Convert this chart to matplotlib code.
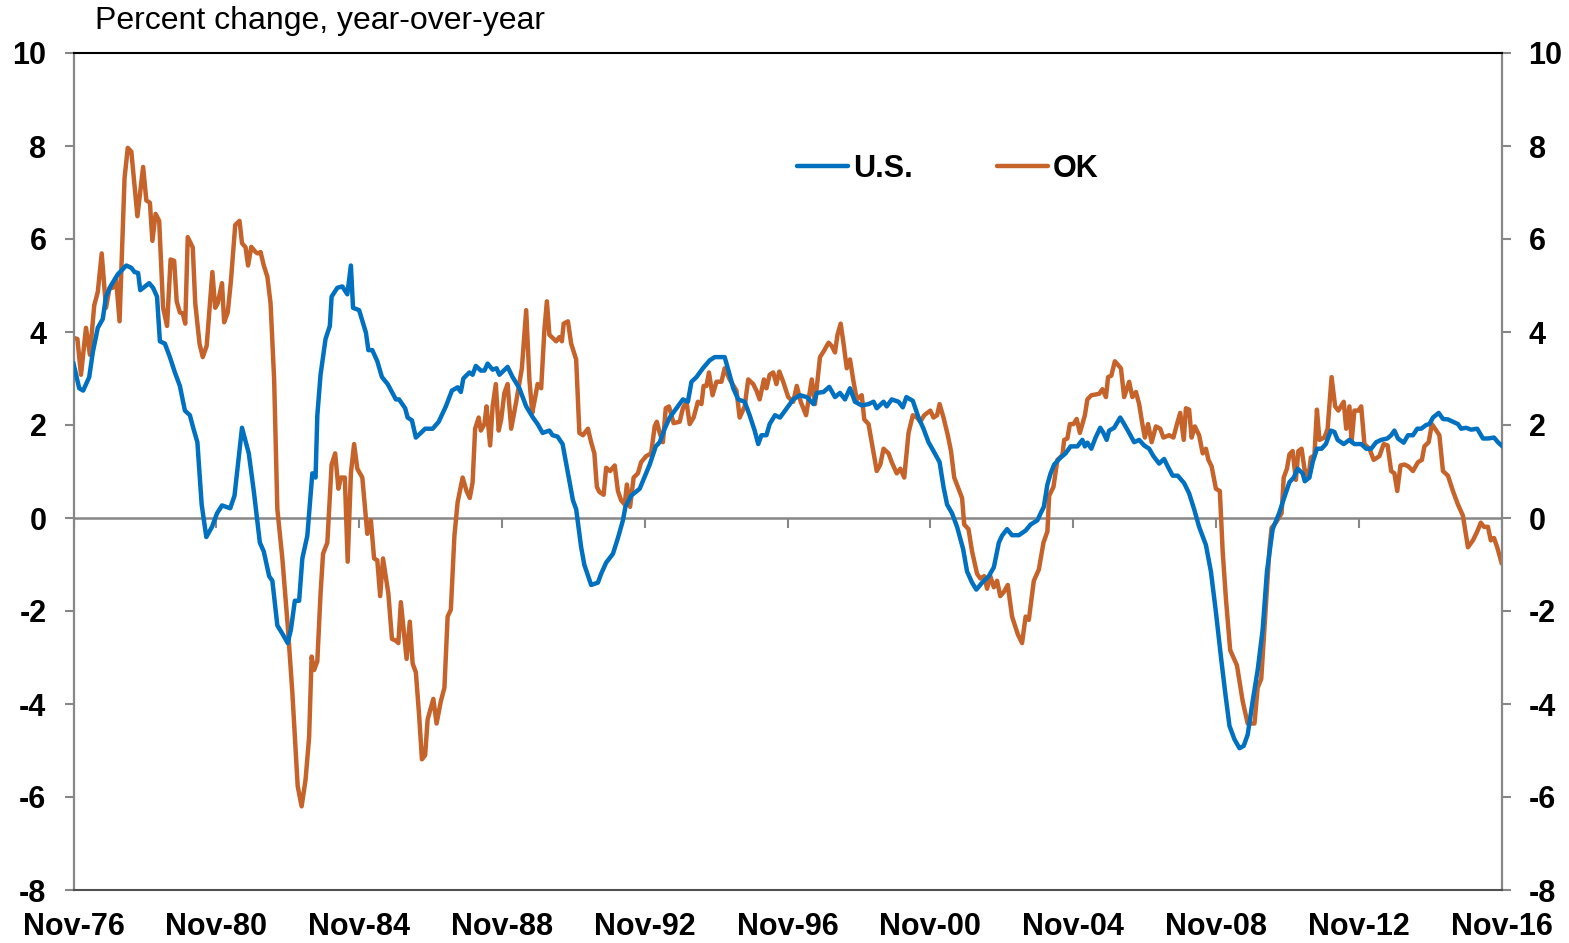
import matplotlib
matplotlib.use("Agg")
import matplotlib.pyplot as plt

plt.rcParams['font.family'] = ['Liberation Sans', 'DejaVu Sans']

# x values are years since Nov-1976
us_t = [0.0, 0.16, 0.27, 0.44, 0.54, 0.68, 0.82, 0.91, 1.05, 1.24, 1.48, 1.62, 1.71, 1.81, 1.87, 2.12, 2.23, 2.34,
        2.42, 2.56, 2.7, 2.84, 2.98, 3.12, 3.26, 3.36, 3.47, 3.59, 3.72, 3.88, 4.02, 4.16, 4.39, 4.51, 4.72, 4.91,
        5.05, 5.22, 5.33, 5.48, 5.57, 5.71, 5.86, 6.0, 6.09, 6.2,
        6.32, 6.41, 6.55, 6.69, 6.78, 6.83, 6.92, 7.06, 7.18, 7.23, 7.39, 7.53, 7.67, 7.77, 7.83, 8.0, 8.19, 8.26,
        8.37, 8.51, 8.64, 8.8, 9.03, 9.12, 9.29, 9.36, 9.48, 9.59, 9.73, 9.85, 10.06, 10.23, 10.43, 10.6, 10.76,
        10.85, 10.92, 11.09, 11.18, 11.27, 11.41, 11.51, 11.6, 11.74, 11.85, 11.93, 12.16, 12.3, 12.49, 12.68,
        12.87, 13.0,
        13.14, 13.33, 13.42, 13.56, 13.7, 13.85, 13.99, 14.08, 14.22, 14.31, 14.5, 14.69, 14.78, 14.92, 15.11,
        15.25, 15.39, 15.46, 15.62, 15.86, 15.99, 16.14, 16.31, 16.42, 16.56, 16.7, 16.89, 17.07, 17.21, 17.31,
        17.45, 17.63, 17.82, 17.96, 18.1, 18.24, 18.38, 18.48, 18.62, 18.8, 18.94, 19.08, 19.18, 19.27, 19.41,
        19.5, 19.65, 19.79,
        19.98, 20.16, 20.35, 20.54, 20.73, 20.82, 21.01, 21.17, 21.33, 21.47, 21.61, 21.75, 21.89, 22.08, 22.27,
        22.41, 22.5, 22.69, 22.78, 22.92, 23.11, 23.23, 23.33, 23.51, 23.67, 23.81, 23.95, 24.09, 24.26, 24.37,
        24.47, 24.61, 24.75, 24.92, 25.03, 25.17, 25.29, 25.45, 25.64, 25.78, 25.92, 26.01, 26.15, 26.29, 26.48,
        26.67, 26.81, 27.0, 27.09, 27.18, 27.28, 27.37, 27.47, 27.65, 27.79, 27.93, 28.12, 28.26, 28.33, 28.4,
        28.51, 28.63, 28.76, 28.85, 28.94, 29.01, 29.15, 29.32, 29.43, 29.57, 29.71, 29.85, 29.99, 30.13, 30.25,
        30.41, 30.55, 30.65, 30.79, 30.93, 31.11, 31.25, 31.39, 31.53, 31.72, 31.86, 32.0, 32.14, 32.26, 32.38,
        32.52, 32.66, 32.78, 32.89, 33.03, 33.17, 33.31, 33.43, 33.53,
        33.59, 33.77, 33.91, 34.06, 34.18, 34.29, 34.43, 34.49, 34.62, 34.71, 34.83, 34.96, 35.08, 35.22, 35.32,
        35.41, 35.58, 35.74, 35.88, 36.07, 36.21, 36.35, 36.49, 36.63, 36.8, 36.91, 37.0, 37.1, 37.26, 37.38,
        37.52, 37.64, 37.75, 37.89, 37.98, 38.08, 38.24, 38.36, 38.5, 38.64, 38.78, 38.87, 39.01, 39.15, 39.32,
        39.48, 39.62, 39.79, 39.9, 40.0]
us_v = [3.32, 2.79, 2.74, 3.03, 3.56, 4.09, 4.28, 4.76, 5.0, 5.24, 5.43, 5.38, 5.29, 5.27, 4.9, 5.05, 4.95, 4.76,
        3.8, 3.75, 3.46, 3.13, 2.84, 2.31, 2.21, 1.92, 1.63, 0.29, -0.41, -0.19, 0.1, 0.27, 0.21, 0.48, 1.94, 1.39,
        0.58, -0.53, -0.72, -1.25, -1.35, -2.31, -2.5, -2.69, -2.4, -1.78,
        -1.78, -0.87, -0.38, 0.96, 0.87, 2.21, 3.08, 3.85, 4.13, 4.76, 4.95, 4.98, 4.81, 5.43, 4.52, 4.47, 3.99,
        3.61, 3.61, 3.37, 3.03, 2.88, 2.55, 2.55, 2.36, 2.16, 2.1, 1.73, 1.83, 1.92, 1.92, 2.07, 2.4, 2.74, 2.81,
        2.71, 3.0, 3.13, 3.08, 3.27, 3.17, 3.17, 3.32, 3.19, 3.22, 3.08, 3.25, 3.03, 2.79, 2.4, 2.16, 2.02,
        1.83, 1.88, 1.78, 1.75, 1.59, 0.96, 0.38, 0.19, -0.63, -1.01, -1.44, -1.39, -1.2, -0.96, -0.77, -0.43,
        -0.05, 0.24, 0.48, 0.63, 0.87, 1.15, 1.54, 1.63, 1.92, 2.16, 2.36, 2.55, 2.5, 2.93, 3.03, 3.22, 3.39,
        3.46, 3.46, 3.46, 3.08, 2.79, 2.55, 2.5, 2.21, 1.88, 1.59, 1.78, 1.78, 2.02, 2.21, 2.16,
        2.36, 2.55, 2.64, 2.6, 2.45, 2.69, 2.71, 2.82, 2.6, 2.69, 2.55, 2.79, 2.5, 2.42, 2.45, 2.5, 2.36, 2.5,
        2.4, 2.55, 2.5, 2.38, 2.6, 2.52, 2.16, 1.92, 1.63, 1.44, 1.2, 0.67, 0.29, 0.1, -0.19, -0.67, -1.15, -1.39,
        -1.54, -1.39, -1.25, -1.06, -0.53, -0.38, -0.24, -0.37, -0.37,
        -0.27, -0.14, -0.05, 0.1, 0.24, 0.72, 0.96, 1.15, 1.3, 1.39, 1.54, 1.54, 1.68, 1.54, 1.62, 1.49, 1.73,
        1.94, 1.83, 1.68, 1.88, 1.94, 2.16, 2.02, 1.83, 1.63, 1.68, 1.56, 1.49, 1.33, 1.17, 1.27, 1.11, 0.91,
        0.91, 0.75, 0.53, 0.19, -0.19, -0.58, -1.15, -2.02, -2.98, -3.75, -4.47, -4.76, -4.95, -4.9, -4.66,
        -3.94, -3.27, -2.4, -1.15, -0.58,
        -0.24, 0.1, 0.43, 0.77, 0.87, 1.06, 0.96, 0.79, 0.87, 1.2, 1.49, 1.49, 1.59, 1.88, 1.85, 1.68, 1.59,
        1.68, 1.59, 1.59, 1.49, 1.49, 1.63, 1.68, 1.71, 1.78, 1.88, 1.71, 1.62, 1.78, 1.78, 1.92, 1.92, 2.0,
        2.02, 2.16, 2.26, 2.13, 2.12, 2.07, 2.02, 1.92, 1.94, 1.9, 1.92, 1.71, 1.71, 1.73, 1.63, 1.56]

ok_t = [0.02, 0.11, 0.21, 0.35, 0.46, 0.58, 0.68, 0.79, 0.91, 1.01, 1.1, 1.19, 1.29, 1.43, 1.52, 1.62, 1.79, 1.95,
        2.04, 2.14, 2.21, 2.3, 2.4, 2.51, 2.62, 2.72, 2.82, 2.89, 2.98, 3.06, 3.13, 3.2, 3.34, 3.41, 3.53, 3.62,
        3.73, 3.89, 3.97, 4.04, 4.16, 4.22, 4.32, 4.41, 4.53, 4.65, 4.72, 4.82, 4.89, 4.98, 5.1, 5.16, 5.24, 5.33,
        5.43, 5.52, 5.62, 5.71, 5.85, 6.0, 6.13, 6.28, 6.39,
        6.5, 6.6, 6.67, 6.74, 6.83, 6.92, 6.99, 7.11, 7.23, 7.33, 7.42, 7.49, 7.6, 7.68, 7.77, 7.86, 7.95, 8.09,
        8.23, 8.33, 8.42, 8.51, 8.59, 8.67, 8.82, 8.92, 9.03, 9.1, 9.17, 9.33, 9.42, 9.5, 9.59, 9.68, 9.76, 9.85,
        9.92, 10.08, 10.17, 10.29, 10.39, 10.48, 10.57, 10.67, 10.76, 10.9, 11.01, 11.1, 11.18, 11.25, 11.35,
        11.41, 11.51, 11.57, 11.67, 11.74, 11.83, 11.91, 11.98, 12.07, 12.16, 12.26, 12.4, 12.56, 12.68, 12.77,
        12.85, 12.91, 13.0, 13.1, 13.19, 13.26, 13.33,
        13.52, 13.61, 13.68, 13.73, 13.85, 13.94, 14.08, 14.17, 14.27, 14.41, 14.5, 14.59, 14.66, 14.73, 14.85,
        14.92, 15.03, 15.16, 15.25, 15.34, 15.44, 15.5, 15.59, 15.69, 15.81, 15.9, 16.04, 16.18, 16.28, 16.34,
        16.42, 16.51, 16.59, 16.68, 16.81, 16.98, 17.07, 17.17, 17.26, 17.37, 17.49, 17.59, 17.65, 17.73, 17.8,
        17.9, 18.01, 18.15, 18.24, 18.38, 18.57, 18.66, 18.8, 18.9, 19.04, 19.13, 19.22, 19.34, 19.41, 19.5,
        19.6, 19.69, 19.77,
        19.88, 20.02, 20.16, 20.26, 20.37, 20.52, 20.68, 20.77, 20.91, 21.01, 21.15, 21.24, 21.33, 21.4, 21.49,
        21.57, 21.66, 21.75, 21.85, 21.94, 22.08, 22.15, 22.27, 22.36, 22.5, 22.6, 22.69, 22.83, 22.92, 23.06,
        23.16, 23.27, 23.39, 23.51, 23.63, 23.72, 23.83, 24.0, 24.09, 24.19, 24.26, 24.37, 24.49, 24.58, 24.67,
        24.79, 24.89, 24.95, 25.07, 25.17, 25.31, 25.4, 25.51, 25.59, 25.68, 25.78, 25.87, 25.96, 26.06, 26.17,
        26.29, 26.45, 26.57, 26.67,
        26.76, 26.9, 27.04, 27.17, 27.28, 27.33, 27.45, 27.56, 27.7, 27.75, 27.84, 27.91, 28.01, 28.1, 28.19,
        28.33, 28.4, 28.51, 28.73, 28.82, 28.92, 28.98, 29.07, 29.17, 29.34, 29.43, 29.57, 29.66, 29.76, 29.85,
        29.94, 30.01, 30.1, 30.2, 30.32, 30.44, 30.53, 30.69, 30.81, 30.91, 31.0, 31.1, 31.16, 31.25, 31.32,
        31.41, 31.53, 31.63, 31.72, 31.79, 31.88, 32.0, 32.11, 32.19, 32.28, 32.4, 32.59, 32.75, 32.89, 33.08,
        33.17, 33.27, 33.38, 33.5,
        33.56, 33.68, 33.84, 33.9, 33.99, 34.06, 34.15, 34.24, 34.31, 34.4, 34.48, 34.59, 34.66, 34.76, 34.83,
        34.9, 35.04, 35.13, 35.24, 35.34, 35.43, 35.58, 35.65, 35.74, 35.8, 35.88, 35.99, 36.07, 36.16, 36.3,
        36.42, 36.58, 36.7, 36.81, 36.91, 37.0, 37.08, 37.17, 37.28, 37.39, 37.52, 37.66, 37.77, 37.84, 37.96,
        38.05, 38.14, 38.26, 38.36, 38.5, 38.64, 38.78, 38.92, 38.99, 39.06, 39.2, 39.32, 39.42, 39.51, 39.62,
        39.7, 39.79, 39.88, 40.0]
ok_v = [3.87, 3.85, 3.08, 4.09, 3.51, 4.57, 4.86, 5.69, 4.52, 4.95, 4.95, 5.17, 4.23, 7.31, 7.96, 7.88, 6.49, 7.55,
        6.83, 6.78, 5.96, 6.54, 6.39, 4.52, 4.13, 5.56, 5.53, 4.66, 4.42, 4.4, 4.18, 6.04, 5.82, 4.62, 3.75, 3.46,
        3.7, 5.29, 4.52, 4.62, 5.05, 4.21, 4.42, 5.1, 6.3, 6.39, 5.91, 5.82, 5.43, 5.83, 5.72, 5.69, 5.72, 5.43,
        5.19, 4.62, 2.98, 0.19, -0.87, -2.31, -3.75, -5.77, -6.2,
        -5.63, -4.71, -2.98, -3.27, -3.08, -1.63, -0.77, -0.53, 1.15, 1.39, 0.63, 0.87, 0.87, -0.94, 0.96, 1.59,
        1.06, 0.87, -0.34, -0.05, -0.87, -0.91, -1.68, -0.87, -1.63, -2.6, -2.64, -2.69, -1.81, -3.03, -2.23,
        -3.13, -3.32, -4.23, -5.19, -5.1, -4.33, -3.89, -4.42, -3.94, -3.65, -2.12, -1.97, -0.38, 0.34, 0.87,
        0.58, 0.43, 0.77, 1.92, 2.16, 1.88, 2.02, 2.4, 1.56, 2.4, 2.88, 1.88, 2.12, 2.69, 2.88, 1.92, 2.5, 3.22,
        4.47, 2.98, 2.26, 2.5, 2.88, 2.79, 4.04, 4.66, 3.94,
        3.8, 3.89, 3.8, 4.18, 4.23, 3.75, 3.41, 1.83, 1.78, 1.92, 1.63, 1.39, 0.67, 0.56, 0.5, 1.08, 1.01, 1.13,
        0.58, 0.38, 0.29, 0.72, 0.24, 0.87, 0.96, 1.2, 1.33, 1.39, 1.97, 2.07, 1.83, 1.63, 2.36, 2.4, 2.04, 2.07,
        2.36, 2.5, 2.02, 2.16, 2.5, 2.45, 2.84, 2.84, 3.13, 2.64, 2.93, 2.93, 3.22, 2.98, 2.74, 2.16, 2.4, 2.98,
        2.88, 2.74, 2.55, 2.98, 2.79, 3.08, 3.13, 2.88, 3.15,
        2.93, 2.6, 2.5, 2.84, 2.5, 2.21, 2.98, 2.45, 3.46, 3.58, 3.77, 3.7, 3.56, 3.94, 4.18, 3.75, 3.22, 3.41,
        2.93, 2.55, 2.64, 2.12, 2.02, 1.63, 1.01, 1.15, 1.49, 1.39, 1.2, 0.96, 1.06, 0.87, 1.83, 2.21, 2.16, 2.07,
        2.21, 2.31, 2.16, 2.21, 2.45, 2.16, 1.78, 1.44, 0.87, 0.63, 0.43, -0.14, -0.24, -0.72, -1.2, -1.3, -1.25,
        -1.52, -1.25, -1.49, -1.35, -1.68, -1.59, -1.44, -2.12, -2.5, -2.69, -2.12,
        -2.19, -1.35, -1.11, -0.53, -0.29, 0.48, 0.67, 1.25, 1.35, 1.68, 1.71, 2.02, 2.02, 2.13, 1.83, 2.21, 2.55,
        2.64, 2.67, 2.77, 2.6, 3.03, 3.06, 3.37, 3.22, 2.6, 2.93, 2.6, 2.71, 2.45, 2.02, 1.73, 2.02, 1.63, 1.97,
        1.92, 1.73, 1.78, 1.73, 2.02, 2.26, 1.68, 2.36, 2.33, 1.73, 1.97, 1.78, 1.39, 1.49, 1.25, 1.11, 0.63,
        0.58, -0.72, -1.73, -2.84, -3.17, -3.94, -4.42, -4.42, -3.65, -3.46, -2.12, -0.67,
        -0.21, -0.1, 0.1, 0.87, 1.06, 1.37, 1.44, 0.82, 1.44, 1.49, 1.06, 0.87, 1.3, 1.35, 2.33, 1.68, 1.73, 1.92,
        3.03, 2.4, 2.31, 2.5, 1.92, 2.4, 1.63, 2.31, 2.31, 2.4, 1.59, 1.49, 1.25, 1.33, 1.59, 1.56, 1.01, 0.96,
        0.58, 1.13, 1.15, 1.11, 1.01, 1.2, 1.25, 1.54, 1.63, 2.02, 1.92, 1.78, 1.01, 0.91, 0.58, 0.29, 0.05,
        -0.29, -0.63, -0.48, -0.29, -0.1, -0.19, -0.19, -0.48, -0.43, -0.63, -0.96]

xtick_pos = [0, 4, 8, 12, 16, 20, 24, 28, 32, 36, 40]
xtick_labels = ['Nov-76', 'Nov-80', 'Nov-84', 'Nov-88', 'Nov-92', 'Nov-96',
                'Nov-00', 'Nov-04', 'Nov-08', 'Nov-12', 'Nov-16']
ytick_pos = [-8, -6, -4, -2, 0, 2, 4, 6, 8, 10]

blue = '#0070C0'
orange = '#C5632B'
grey = '#878787'

fig = plt.figure(figsize=(15.69, 9.43), dpi=100)
ax = fig.add_axes([73.5 / 1569, 1 - 890 / 943, (1501.5 - 73.5) / 1569, (890 - 53) / 943])

ax.axhline(0, color=grey, lw=1.8, zorder=1)
ax.vlines(xtick_pos, -0.22, 0, color=grey, lw=1.5, zorder=1)

ax.plot(us_t, us_v, color=blue, lw=3.2, label='U.S.', zorder=3, solid_joinstyle='round')
ax.plot(ok_t, ok_v, color=orange, lw=3.2, label='OK', zorder=2, solid_joinstyle='round')

ax.set_xlim(0, 40)
ax.set_ylim(-8, 10)

ax.set_xticks(xtick_pos)
ax.set_xticklabels(xtick_labels, fontsize=22, fontweight='bold')
ax.tick_params(axis='x', length=0, pad=16)

ax.set_yticks(ytick_pos)
ax.set_yticklabels([str(v) for v in ytick_pos], fontsize=22, fontweight='bold')
ax.tick_params(axis='y', left=True, right=True, labelleft=True, labelright=True,
               length=6.5, width=1.5, color=grey, direction='out', pad=13)

for side in ['left', 'right']:
    ax.spines[side].set_color(grey)
    ax.spines[side].set_linewidth(1.6)
ax.spines['top'].set_color('black')
ax.spines['top'].set_linewidth(1.5)
ax.spines['bottom'].set_color('#505050')
ax.spines['bottom'].set_linewidth(1.5)

leg = ax.legend(loc='center left', bbox_to_anchor=(0.5067, 0.862), ncol=2, frameon=False,
                prop={'size': 22, 'weight': 'bold'}, handlelength=1.67, handletextpad=0.16,
                columnspacing=2.75, borderpad=0, borderaxespad=0)
for line in leg.get_lines():
    line.set_linewidth(3.2)
    line.set_solid_capstyle('round')

fig.text(95 / 1569, 1 - 21 / 943, 'Percent change, year-over-year', fontsize=23,
         ha='left', va='center')

fig.savefig('out.png', dpi=100)
